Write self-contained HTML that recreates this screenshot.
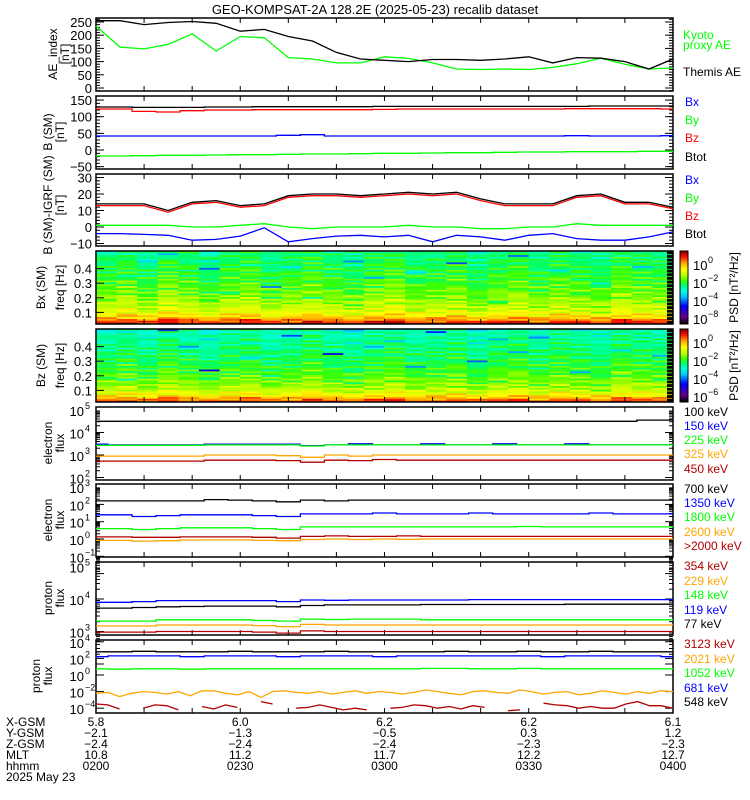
<!DOCTYPE html>
<html><head><meta charset="utf-8">
<style>
html,body{margin:0;padding:0;background:#fff;}
svg{display:block;font-family:"Liberation Sans",sans-serif;}
</style></head>
<body>
<svg id="fig" width="750" height="800" viewBox="0 0 750 800" xmlns="http://www.w3.org/2000/svg">
<rect width="750" height="800" fill="#fff"/>
<text x="375" y="14" font-size="13" text-anchor="middle">GEO-KOMPSAT-2A 128.2E (2025-05-23) recalib dataset</text>
<g id="layer"></g>
</svg>
<script>
// ---- data (25 samples, 0200-0400 UT) ----
const aeThemis=[255,255,240,248,252,245,215,222,195,178,135,110,105,100,108,108,105,110,118,95,115,113,100,72,110];
const aeKyoto=[235,155,148,165,205,140,195,190,115,110,95,95,118,112,95,72,70,72,70,78,92,113,90,72,76];
const bBtot=[129,129,128,128,128,129,129,130,130,130,130,130,131,131,131,131,131,131,131,131,131,132,132,132,132];
const bBz=[123,123,116,114,118,120,120,121,121,121,121,121,122,123,123,123,123,123,123,123,124,124,124,124,123];
const bBx=[42,42,42,42,42,42,42,42,44,46,42,42,42,42,42,42,42,42,42,42,43,42,42,42,43];
const bBy=[-18,-18,-17,-16,-16,-15,-14,-14,-13,-12,-12,-11,-10,-10,-9,-8,-8,-7,-6,-6,-5,-5,-5,-4,-4];
const dBtot=[14,14,14,10,15,16,13,14,19,20,20,19,20,21,20,21,17,14,14,14,19,20,15,15,12];
const dBz=[13,13,13,9,14,15,12,13,18,19,19,18,19,20,19,20,16,13,13,13,18,19,14,14,11];
const dBy=[1,1,1,1,0,0,1,2,0,-1,0,0,0,1,0,0,-1,-1,0,0,2,1,1,1,1];
const dBx=[-4,-4,-4.5,-5,-8,-7.5,-5.5,-0.5,-9,-7,-5.5,-5,-6,-5,-9,-5,-6,-8,-5,-4,-7,-8,-8,-6,-3];
// electron flux (log10)
const e100=[4.5,4.5,4.5,4.5,4.5,4.5,4.5,4.5,4.5,4.5,4.5,4.5,4.5,4.5,4.5,4.5,4.5,4.5,4.5,4.5,4.5,4.5,4.5,4.55,4.55];
const e150=[3.48,3.45,3.45,3.45,3.45,3.48,3.48,3.48,3.48,3.42,3.45,3.5,3.45,3.45,3.5,3.45,3.45,3.5,3.45,3.45,3.5,3.45,3.45,3.45,3.45];
const e225=[3.43,3.43,3.43,3.43,3.43,3.45,3.45,3.45,3.45,3.4,3.45,3.45,3.45,3.45,3.45,3.45,3.45,3.45,3.45,3.45,3.45,3.45,3.45,3.45,3.45];
const e325=[2.95,2.95,2.95,2.95,2.95,3.0,3.0,3.0,2.97,2.9,3.0,2.95,3.0,3.0,3.0,3.0,3.0,3.0,3.0,3.0,3.0,3.0,3.0,3.0,3.0];
const e450=[2.73,2.73,2.73,2.73,2.73,2.77,2.77,2.77,2.75,2.68,2.77,2.75,2.8,2.77,2.77,2.77,2.77,2.77,2.77,2.77,2.77,2.77,2.77,2.77,2.77];
const e700=[2.2,2.2,2.2,2.2,2.2,2.28,2.25,2.2,2.15,2.25,2.2,2.25,2.25,2.25,2.25,2.25,2.25,2.25,2.25,2.25,2.25,2.25,2.25,2.25,2.25];
const e1350=[1.4,1.4,1.3,1.35,1.4,1.4,1.4,1.35,1.3,1.45,1.45,1.45,1.5,1.45,1.45,1.45,1.5,1.45,1.45,1.45,1.45,1.5,1.45,1.45,1.45];
const e1800=[0.6,0.6,0.55,0.6,0.65,0.65,0.65,0.6,0.55,0.7,0.7,0.7,0.7,0.7,0.7,0.7,0.7,0.7,0.72,0.7,0.7,0.7,0.7,0.7,0.7];
const e2000=[0.12,0.12,0.1,0.1,0.12,0.12,0.12,0.1,0.05,0.15,0.18,0.15,0.15,0.18,0.15,0.15,0.15,0.15,0.15,0.15,0.15,0.15,0.15,0.15,0.15];
const e2600=[-0.08,-0.08,-0.12,-0.1,-0.06,-0.05,-0.05,-0.08,-0.1,-0.03,0,-0.03,0,-0.02,0,0,0,0,0,0,0,0,0,0,0];
// proton flux (log10)
const p119=[3.9,3.9,3.92,3.95,3.95,3.95,3.95,3.95,3.92,3.97,3.96,3.97,3.97,3.97,3.97,3.97,3.98,3.98,3.98,3.98,3.98,3.98,3.98,3.98,3.98];
const p77=[3.72,3.72,3.74,3.76,3.77,3.78,3.78,3.78,3.76,3.8,3.82,3.82,3.82,3.82,3.83,3.83,3.83,3.83,3.83,3.83,3.84,3.84,3.84,3.84,3.84];
const p148=[3.32,3.32,3.32,3.36,3.36,3.36,3.36,3.34,3.32,3.38,3.37,3.38,3.38,3.38,3.36,3.36,3.36,3.36,3.36,3.36,3.36,3.36,3.36,3.36,3.36];
const p229=[3.17,3.17,3.17,3.2,3.2,3.2,3.2,3.18,3.15,3.22,3.2,3.2,3.2,3.2,3.2,3.2,3.2,3.2,3.2,3.2,3.2,3.2,3.2,3.2,3.2];
const p354=[2.98,2.98,2.98,3.0,3.0,3.0,3.0,2.98,2.95,3.02,3.0,3.0,3.0,3.0,3.0,3.0,3.0,3.0,3.0,3.0,3.0,3.0,3.0,3.0,3.0];
const p548=[2.8,2.8,2.85,2.8,2.8,2.8,2.85,2.8,2.8,2.8,2.85,2.8,2.8,2.8,2.8,2.85,2.8,2.8,2.85,2.8,2.8,2.85,2.8,2.8,2.8];
const p681=[2.2,2.3,2.3,2.3,2.2,2.3,2.3,2.3,2.2,2.3,2.3,2.3,2.2,2.3,2.3,2.3,2.3,2.3,2.3,2.2,2.3,2.3,2.3,2.3,2.2];
const p1052=[0.75,0.7,0.75,0.75,0.7,0.75,0.75,0.75,0.75,0.75,0.75,0.75,0.75,0.75,0.8,0.8,0.75,0.75,0.8,0.75,0.75,0.75,0.75,0.75,0.75];
const p2021=[-2.2,-2.1,-2.6,-2.2,-2.0,-2.1,-2.3,-2.0,-2.5,-1.9,-1.9,-2.2,-2.4,-2.0,-2.7,-2.0,-1.9,-2.1,-2.2,-2.0,-2.3,-2.1,-1.9,-2.2,-2.0,-2.1,-2.3,-2.1,-1.8,-2.0,-2.2,-2.4,-2.0,-1.9,-2.1,-2.2,-1.8,-2.0,-2.3,-2.1,-2.0,-2.4,-2.2,-1.9,-2.1,-2.3,-2.0,-2.2,-1.9,-2.0];
const p3123=[-3.5,-3.6,-4.1,null,-4.0,-3.6,-3.7,-4.2,null,-3.8,-4.1,-3.6,-3.9,null,-3.2,-3.5,null,-4.0,-3.9,-3.6,-3.9,-4.2,-4.0,-4.2,null,-4.0,-3.9,-3.6,-3.7,-4.0,-3.8,-4.1,-3.7,-3.9,null,-4.3,-4.2,null,-3.4,-3.6,-3.7,-4.0,-3.8,-4.0,-4.0,-3.5,-3.2,-3.7,-3.7,-4.0];
// spectrogram data (log10 PSD)
const specRowProfile=[1.3,0.9,0.3,-0.2,-0.6,-0.9,-1.2,-1.4,-1.6,-1.7,-1.8,-1.9,-2.0,-2.1,-2.2,-2.3,-2.4,-2.45,-2.5,-2.6,-2.65,-2.7,-2.8,-2.85,-2.9,-2.95,-3.0,-3.05,-3.1,-3.15,-3.2,-3.25,-3.3,-3.35,-3.4,-3.45,-3.5,-3.55,-3.6,-3.6];
const specRowJitter=[0,0.3,-0.2,0.2,-0.3,0.1,0.3,-0.2,0,0.2,-0.3,0.2,0,-0.2,0.3,-0.1,0.2,-0.3,0,0.2,-0.2,0.3,-0.4,0.1,0.2,-0.3,0,0.3,-0.2,0.1,-0.4,0.2,0,-0.3,0.2,-0.1,0.3,-0.2,0.1,-0.5];
const specRowJitter2=[0.2,-0.3,0.1,0.4,-0.2,0,-0.4,0.3,0.1,-0.3,0.2,0.4,-0.1,-0.4,0,0.3,-0.2,0.1,0.3,-0.4,0.2,0,-0.2,0.4,-0.3,0.1,0.3,-0.1,-0.4,0.2,0,0.3,-0.3,0.1,-0.2,0.4,-0.1,0.2,-0.4,0];
const bxColOffset=[0,0.3,-0.2,0.4,0.1,-0.3,0.2,0.3,-0.2,0.1,0.3,0,-0.2,0.2,0.4,-0.1,0,0.2,-0.3,0.1,0.3,-0.1,0.2,0,-0.2,0.3,0.1,0];
const bzColOffset=[-0.5,-0.2,-0.6,-0.1,-0.4,-0.7,-0.3,-0.2,-0.6,-0.4,-0.1,-0.5,-0.6,-0.3,-0.1,-0.5,-0.4,-0.2,-0.7,-0.3,-0.1,-0.5,-0.2,-0.4,-0.6,-0.1,-0.3,-0.4];
const bxStreaks=[[3,38,-3],[5,30,-2.5],[8,20,-2.5],[1,26,-2],[12,34,-2.5],[15,28,-2],[20,37,-2.5],[24,22,-2],[10,14,-2],[17,33,-2.5],[6,17,-2],[26,31,-2],[13,25,-2.5],[19,12,-2],[22,29,-2.5],[2,34,-2],[9,31,-2]];
const bzStreaks=[[3,39,-2.5],[5,17,-3],[4,30,-2.5],[9,36,-3],[11,26,-2.5],[14,33,-2],[18,22,-2.5],[21,35,-2.5],[25,28,-2],[7,24,-2],[16,38,-2.5],[23,16,-2],[1,12,-2],[13,30,-2.5],[15,19,-2.5],[19,34,-2],[20,27,-2.5],[27,25,-2.5],[12,39,-2]];
// ephemeris
const ephX=["5.8","6.0","6.2","6.2","6.1"];
const ephY=["-2.1","-1.3","-0.5","0.3","1.2"];
const ephZ=["-2.4","-2.4","-2.4","-2.3","-2.3"];
const ephMLT=["10.8","11.2","11.7","12.2","12.7"];
const ephHHMM=["0200","0230","0300","0330","0400"];

// ---- layout ----
const NS="http://www.w3.org/2000/svg";
const L=document.getElementById('layer');
const X0=96,X1=673;
function el(tag,attrs,parent){const e=document.createElementNS(NS,tag);for(const k in attrs)e.setAttribute(k,attrs[k]);(parent||L).appendChild(e);return e;}
function xs(f){return X0+f*(X1-X0);}
const GREEN='#00ff00',BLUE='#0000ff',RED='#ff0000',ORANGE='#ffa500',DRED='#b00000',BLK='#000';

function frame(top,bot,name){
  const g=el('g',{});
  
  
  el('rect',{x:X0,y:top,width:X1-X0,height:bot-top,fill:'none',stroke:'#000','stroke-width':1.5},g);
  for(let k=0;k<=12;k++){const x=X0+k*48.08;
    el('line',{x1:x,x2:x,y1:bot,y2:bot-5,stroke:'#000'},g);
    el('line',{x1:x,x2:x,y1:top,y2:top+5,stroke:'#000'},g);}
  return g;
}
function lin(top,zero,k){return v=>zero-v*k;}
function drawSeries(g,vals,ys,color,name,step){
  let d='',pen=false;const n=vals.length;
  for(let i=0;i<n;i++){
    if(vals[i]===null){pen=false;continue;}
    const x=xs(i/(n-1)),y=ys(vals[i]);
    if(!pen){d+='M'+x.toFixed(1)+' '+y.toFixed(1);pen=true;}
    else if(step){const px=xs((i-1)/(n-1))+(x-xs((i-1)/(n-1)))/2;d+='H'+px.toFixed(1)+'V'+y.toFixed(1);}
    else d+='L'+x.toFixed(1)+' '+y.toFixed(1);
    if(step&&i===n-1)d+='H'+x.toFixed(1);
  }
  const p=el('path',{d:d,fill:'none',stroke:color,'stroke-width':1.3},g);
  
  
}
function linTicks(g,ys,vals,minorStep,lo,hi){
  vals.forEach(v=>{const y=ys(v);
    el('line',{x1:X0,x2:X0+8,y1:y,y2:y,stroke:'#000'},g);el('line',{x1:X1,x2:X1-8,y1:y,y2:y,stroke:'#000'},g);
    const t=el('text',{x:X0-4,y:y+5,'font-size':13,'text-anchor':'end'},g);t.textContent=String(v).replace('-','\u2212');
    
    });
  for(let v=lo;v<=hi;v+=minorStep){const y=ys(v);
    el('line',{x1:X0,x2:X0+4,y1:y,y2:y,stroke:'#000'},g);el('line',{x1:X1,x2:X1-4,y1:y,y2:y,stroke:'#000'},g);}
}
function logTicks(g,ys,exps,lo,hi){
  for(let e=lo;e<hi;e++){for(let m=1;m<10;m++){const v=e+Math.log10(m);const y=ys(v);
    const len=m===1?8:4;
    el('line',{x1:X0,x2:X0+len,y1:y,y2:y,stroke:'#000'},g);el('line',{x1:X1,x2:X1-len,y1:y,y2:y,stroke:'#000'},g);}}
  exps.forEach(e=>{const y=ys(e);
    const t=el('text',{x:X0-12,y:y+6,'font-size':13,'text-anchor':'end'},g);t.textContent='10';
    
    
    const s=el('text',{x:X0-11,y:y-1,'font-size':9},g);s.textContent=String(e).replace('-','\u2212');});
}
function ytitle(lines,cy,xs0,name){
  lines.forEach((s,i)=>{const x=xs0[i];
    const t=el('text',{x:x,y:cy,'font-size':12,'text-anchor':'middle',transform:`rotate(-90 ${x} ${cy})`});
    t.textContent=s;
    
    });
}
function legend(items,x){
  items.forEach(([s,c,y])=>{const t=el('text',{x:x,y:y+4,'font-size':12,fill:c});t.textContent=s;
    
    });
}

// Panel 1 AE
{const g=frame(18,91,'ae-index-panel');const ys=lin(0,88,0.264);
 linTicks(g,ys,[0,50,100,150,200,250],10,-10,260);
 drawSeries(g,aeKyoto,ys,GREEN,'kyoto-ae-line',false);
 drawSeries(g,aeThemis,ys,BLK,'themis-ae-line',false);
 ytitle(['AE_index','[nT]'],54,[57,69],'y-axis-title');
 legend([['Kyoto',GREEN,35],['proxy AE',GREEN,45],['Themis AE',BLK,72]],683);}
// Panel 2 B
{const g=frame(96,169,'b-sm-panel');const ys=lin(0,150,0.333);
 linTicks(g,ys,[-50,0,50,100,150],10,-50,150);
 drawSeries(g,bBtot,ys,BLK,'btot-line',true);drawSeries(g,bBz,ys,RED,'bz-line',true);
 drawSeries(g,bBx,ys,BLUE,'bx-line',true);drawSeries(g,bBy,ys,GREEN,'by-line',true);
 ytitle(['B (SM)','[nT]'],132,[52,64],'y-axis-title');
 legend([['Bx',BLUE,102],['By',GREEN,120],['Bz',RED,138],['Btot',BLK,157]],685);}
// Panel 3 dB
{const g=frame(174,246,'b-minus-igrf-panel');const ys=lin(0,227,1.65);
 linTicks(g,ys,[-10,0,10,20,30],2,-10,30);
 drawSeries(g,dBtot,ys,BLK,'dbtot-line',false);drawSeries(g,dBz,ys,RED,'dbz-line',false);
 drawSeries(g,dBy,ys,GREEN,'dby-line',false);drawSeries(g,dBx,ys,BLUE,'dbx-line',false);
 ytitle(['B (SM)-IGRF (SM)','[nT]'],205,[52,64],'y-axis-title');
 legend([['Bx',BLUE,180],['By',GREEN,198],['Bz',RED,216],['Btot',BLK,234]],685);}

// Spectrograms
function cmap(t){t=Math.max(0,Math.min(1,t));
 const st=[[0,0,0,0],[0.1,100,0,140],[0.25,0,0,255],[0.38,0,200,255],[0.46,0,255,220],[0.54,0,255,110],[0.6,60,255,0],[0.68,190,255,0],[0.76,255,255,0],[0.85,255,160,0],[0.93,255,20,0],[1,150,0,0]];
 for(let i=1;i<st.length;i++){if(t<=st[i][0]){const a=st[i-1],b=st[i],f=(t-a[0])/(b[0]-a[0]);
  return `rgb(${Math.round(a[1]+f*(b[1]-a[1]))},${Math.round(a[2]+f*(b[2]-a[2]))},${Math.round(a[3]+f*(b[3]-a[3]))})`;}}
 return 'rgb(150,0,0)';}
function spectro(top,bot,colOff,streaks,name,titles,cbLabels){
 const g=el('g',{});
 
 
 const nc=colOff.length,nr=specRowProfile.length,cw=(X1-X0)/nc,rh=(bot-top)/nr;
 for(let c=0;c<nc;c++)for(let r=0;r<nr;r++){
  let v=specRowProfile[r]+specRowJitter[(r+c)%nr]*1.3+specRowJitter2[(r+3*c)%nr]*1.2+colOff[c];
  streaks.forEach(s=>{if(s[0]===c&&s[1]===r)v+=s[2];});
  const cell=el('rect',{x:(X0+c*cw).toFixed(2),y:(bot-(r+1)*rh).toFixed(2),width:(cw+0.6).toFixed(2),height:(rh+0.4).toFixed(2),fill:cmap(0.83+v*0.085)},g);
  
  }
 el('rect',{x:X1-6,y:top,width:6,height:bot-top,fill:'#000'},g);
 for(let r=0;r<nr;r+=2){el('line',{x1:X1-6,x2:X1,y1:bot-r*rh,y2:bot-r*rh,stroke:cmap(0.83+specRowProfile[r]*0.085),'stroke-width':0.8},g);}
 el('rect',{x:X0,y:top,width:X1-X0,height:bot-top,fill:'none',stroke:'#000','stroke-width':1.5},g);
 const fy=f=>bot-(f/0.5)*(bot-top)+3;
 [0.1,0.2,0.3,0.4].forEach(f=>{const y=fy(f);el('line',{x1:X0,x2:X0+8,y1:y,y2:y,stroke:'#000'},g);
  const t=el('text',{x:X0-4,y:y+5,'font-size':13,'text-anchor':'end'},g);t.textContent=f.toFixed(1);
  
  });
 for(let k=0;k<=12;k++){const x=X0+k*48.08;el('line',{x1:x,x2:x,y1:bot,y2:bot-5,stroke:'#000'},g);}
 ytitle(titles,(top+bot)/2,[45,64],'y-axis-title');
 const cb=el('g',{});
 
 
 for(let i=0;i<73;i++){el('rect',{x:680,y:bot-(i+1)*(bot-top)/73,width:8,height:(bot-top)/73+0.5,fill:cmap(i/72)},cb);}
 el('rect',{x:680,y:top,width:8,height:bot-top,fill:'none',stroke:'#000'},cb);
 cbLabels.forEach(([e,y])=>{const t=el('text',{x:693,y:top+y+5,'font-size':13},cb);t.textContent='10';
  const s=el('text',{x:708,y:top+y-2,'font-size':9},cb);s.textContent=e;});
 const px=738,py=(top+bot)/2;const t=el('text',{x:px,y:py,'font-size':12,'text-anchor':'middle',transform:`rotate(-90 ${px} ${py})`},cb);
 t.textContent='PSD [nT\u00b2/Hz]';
}
spectro(251,324,bxColOffset,bxStreaks,'bx-spectrogram',['Bx (SM)','freq [Hz]'],[['0',14],['\u22122',32],['\u22124',50],['\u22128',68]]);
spectro(329,402,bzColOffset,bzStreaks,'bz-spectrogram',['Bz (SM)','freq [Hz]'],[['0',14],['\u22122',32],['\u22124',50],['\u22126',68]]);

// electron 1
{const g=frame(407,480,'electron-flux-low-panel');const ys=lin(0,410+5*22.5,22.5);
 logTicks(g,ys,[2,3,4,5],2,5);
 drawSeries(g,e100,ys,BLK,'e100-line',true);drawSeries(g,e150,ys,BLUE,'e150-line',true);
 drawSeries(g,e225,ys,GREEN,'e225-line',true);drawSeries(g,e325,ys,ORANGE,'e325-line',true);drawSeries(g,e450,ys,DRED,'e450-line',true);
 ytitle(['electron','flux'],443,[52,64],'y-axis-title');
 legend([['100 keV',BLK,412],['150 keV',BLUE,426],['225 keV',GREEN,440],['325 keV',ORANGE,454],['450 keV',DRED,469]],684);}
// electron 2
{const g=frame(484,557,'electron-flux-high-panel');const ys=lin(0,539,17.3);
 logTicks(g,ys,[-1,0,1,2,3],-2,3);
 drawSeries(g,e700,ys,BLK,'e700-line',true);drawSeries(g,e1350,ys,BLUE,'e1350-line',true);
 drawSeries(g,e1800,ys,GREEN,'e1800-line',true);drawSeries(g,e2000,ys,DRED,'e2000-line',true);drawSeries(g,e2600,ys,ORANGE,'e2600-line',true);
 ytitle(['electron','flux'],520,[52,64],'y-axis-title');
 legend([['700 keV',BLK,489],['1350 keV',BLUE,503],['1800 keV',GREEN,517],['2600 keV',ORANGE,532],['>2000 keV',DRED,546]],684);}
// proton 1
{const g=frame(562,635,'proton-flux-low-panel');const ys=lin(0,599+4*32.5,32.5);
 logTicks(g,ys,[3,4,5],2,5);
 drawSeries(g,p119,ys,BLUE,'p119-line',true);drawSeries(g,p77,ys,BLK,'p77-line',true);
 drawSeries(g,p148,ys,GREEN,'p148-line',true);drawSeries(g,p229,ys,ORANGE,'p229-line',true);drawSeries(g,p354,ys,DRED,'p354-line',true);
 ytitle(['proton','flux'],598,[52,64],'y-axis-title');
 legend([['354 keV',DRED,566],['229 keV',ORANGE,581],['148 keV',GREEN,595],['119 keV',BLUE,610],['77 keV',BLK,624]],684);}
// proton 2
{const g=frame(640,713,'proton-flux-high-panel');const ys=lin(0,675,8.3);
 [-4,-2,0,2,4].forEach(e=>{const y=ys(e);
  el('line',{x1:X0,x2:X0+8,y1:y,y2:y,stroke:'#000'},g);el('line',{x1:X1,x2:X1-8,y1:y,y2:y,stroke:'#000'},g);
  const t=el('text',{x:X0-12,y:y+6,'font-size':13,'text-anchor':'end'},g);t.textContent='10';
  
  
  const s=el('text',{x:X0-11,y:y-1,'font-size':9},g);s.textContent=String(e).replace('-','\u2212');});
 drawSeries(g,p548,ys,BLK,'p548-line',true);drawSeries(g,p681,ys,BLUE,'p681-line',true);
 drawSeries(g,p1052,ys,GREEN,'p1052-line',true);drawSeries(g,p2021,ys,ORANGE,'p2021-line',false);drawSeries(g,p3123,ys,DRED,'p3123-line',false);
 ytitle(['proton','flux'],676,[40,52],'y-axis-title');
 legend([['3123 keV',DRED,644],['2021 keV',ORANGE,659],['1052 keV',GREEN,673],['681 keV',BLUE,688],['548 keV',BLK,702]],684);}

// ephemeris
{const g=el('g',{});
 
 
 const rows=[['X-GSM',ephX,722],['Y-GSM',ephY,733],['Z-GSM',ephZ,744],['MLT',ephMLT,755],['hhmm',ephHHMM,766]];
 rows.forEach(([lab,vals,y])=>{
  const t=el('text',{x:6,y:y+4,'font-size':12},g);t.textContent=lab;
  vals.forEach((v,i)=>{const tt=el('text',{x:xs(i/4),y:y+4,'font-size':12,'text-anchor':'middle'},g);tt.textContent=v.replace('-','\u2212');});
 });
 const d=el('text',{x:6,y:781,'font-size':12},g);d.textContent='2025 May 23';
 
 }
</script>
</body></html>
